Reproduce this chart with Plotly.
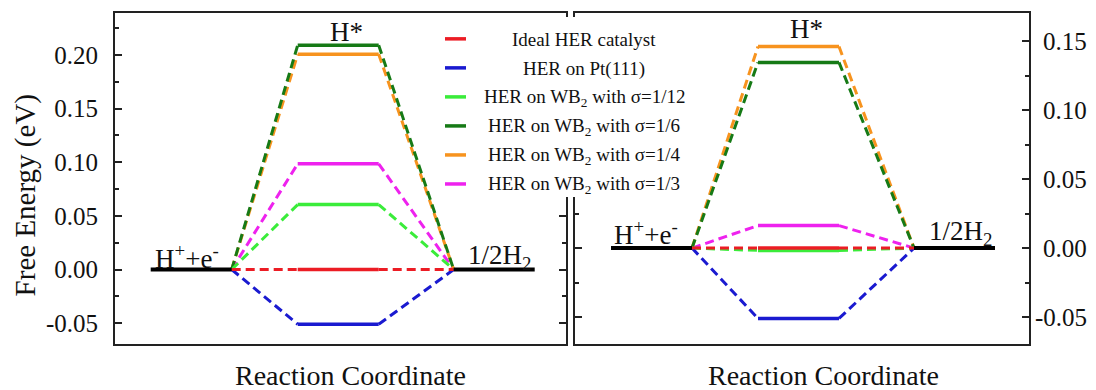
import plotly.graph_objects as go

# ---------------- data ----------------
stages = ["H<sup>+</sup>+e<sup>-</sup>", "H*", "1/2H<sub>2</sub>"]
series_names = [
    "Ideal HER catalyst",
    "HER on Pt(111)",
    "HER on WB<sub>2</sub> with σ=1/12",
    "HER on WB<sub>2</sub> with σ=1/6",
    "HER on WB<sub>2</sub> with σ=1/4",
    "HER on WB<sub>2</sub> with σ=1/3",
]
initial_energy = 0.0
final_energy = 0.0
left_hstar = [0.0, -0.051, 0.0605, 0.209, 0.2005, 0.0985]
right_hstar = [0.0, -0.051, -0.0017, 0.1345, 0.146, 0.0163]
left_ytickvals = [-0.05, 0.0, 0.05, 0.10, 0.15, 0.20]
left_yticktext = ["-0.05", "0.00", "0.05", "0.10", "0.15", "0.20"]
right_ytickvals = [-0.05, 0.0, 0.05, 0.10, 0.15]
right_yticktext = ["-0.05", "0.00", "0.05", "0.10", "0.15"]
x_title = "Reaction Coordinate"
y_title = "Free Energy (eV)"

# ---------------- style ----------------
colors = ["#ec1c24", "#1a1ad0", "#3aec3a", "#167a16", "#f7931e", "#ee22ee"]
FONT = "Liberation Serif"
LEVEL_W = 81
STAGE_START = [0, 147, 303]

W, H = 1096, 390
OFF = 8  # default page body margin of the html page
PL, PR, PT, PB = 115, 1029, 11, 344


def pxx(x):
    return (x - PL) / (PR - PL)


def pxy(y):
    return (PB - y) / (PB - PT)


fig = go.Figure()


def add_panel(values, xa, ya):
    s0, s1, s2 = STAGE_START
    L = LEVEL_W
    order = list(range(len(values)))[::-1]
    for i in order:
        v = values[i]
        fig.add_trace(go.Scatter(
            x=[s0 + L, s1, None, s1 + L, s2],
            y=[initial_energy, v, None, v, final_energy],
            mode="lines", line=dict(color=colors[i], width=3, dash="9px,5px"),
            xaxis=xa, yaxis=ya, showlegend=False, hoverinfo="skip"))
    for i in order:
        v = values[i]
        fig.add_trace(go.Scatter(
            x=[s1, s1 + L], y=[v, v], mode="lines",
            line=dict(color=colors[i], width=3.5),
            xaxis=xa, yaxis=ya, showlegend=False, name=series_names[i]))
    fig.add_trace(go.Scatter(
        x=[s0, s0 + L, None, s2, s2 + L],
        y=[initial_energy, initial_energy, None, final_energy, final_energy],
        mode="lines", line=dict(color="black", width=4),
        xaxis=xa, yaxis=ya, showlegend=False))


add_panel(left_hstar, "x", "y")
add_panel(right_hstar, "x2", "y2")

axis_common = dict(showline=True, linecolor="#222222", linewidth=1.8,
                   showgrid=False, zeroline=False)
tick_font = dict(size=25, family=FONT, color="#111111")

fig.update_layout(
    width=W - OFF, height=H - OFF,
    margin=dict(l=PL - OFF, r=W - PR, t=PT - OFF, b=H - PB, pad=0),
    paper_bgcolor="white", plot_bgcolor="white",
    showlegend=False,
    font=dict(family=FONT, color="#111111"),
    xaxis=dict(domain=[0, pxx(566)], range=[115 - 150.7, 566 - 150.7],
               showticklabels=False, ticks="", mirror=True, **axis_common),
    xaxis2=dict(domain=[pxx(575), 1], range=[575 - 611, 1029 - 611],
                showticklabels=False, ticks="", mirror=True, **axis_common),
    yaxis=dict(anchor="x", range=[-0.0694, 0.239], tickvals=left_ytickvals,
               ticktext=left_yticktext, ticks="inside", ticklen=7, tickwidth=1.5,
               tickcolor="#222222", mirror="ticks", ticklabelstandoff=10,
               tickfont=tick_font,
               minor=dict(ticks="inside", ticklen=4, dtick=0.025, tick0=0,
                          tickwidth=1.5, tickcolor="#222222"),
               **axis_common),
    yaxis2=dict(anchor="x2", side="right", range=[-0.0695, 0.1703],
                tickvals=right_ytickvals, showticklabels=False,
                ticks="inside", ticklen=7, tickwidth=1.5, tickcolor="#222222",
                mirror="ticks",
                minor=dict(ticks="inside", ticklen=4, dtick=0.025, tick0=0,
                           tickwidth=1.5, tickcolor="#222222"),
                **axis_common),
)

shapes = []
annotations = []

# right-axis tick labels, right-aligned as in the reference
for v, t in zip(right_ytickvals, right_yticktext):
    annotations.append(dict(text=t, xref="paper", yref="y2", x=pxx(1089), y=v,
                            xanchor="right", yanchor="middle", showarrow=False,
                            font=tick_font))

# legend box (white background hiding the inner borders)
shapes.append(dict(type="rect", xref="paper", yref="paper", layer="above",
                   x0=pxx(436), x1=pxx(705), y0=pxy(196), y1=pxy(15),
                   fillcolor="white", line=dict(width=0)))
row0, row_gap = 37, 29.2
for i, name in enumerate(series_names):
    yy = row0 + row_gap * i
    shapes.append(dict(type="line", xref="paper", yref="paper", layer="above",
                       x0=pxx(445), x1=pxx(466), y0=pxy(yy), y1=pxy(yy),
                       line=dict(color=colors[i], width=3.5)))
    annotations.append(dict(text=name, xref="paper", yref="paper",
                            x=pxx(584), y=pxy(yy + 1), xanchor="center",
                            yanchor="middle", showarrow=False,
                            font=dict(size=19, family=FONT, color="#111111")))

# stage labels
lab_font = dict(size=27, family=FONT, color="#111111")
stage_label_pos = [
    (187, 256, 0), (346, 30, 1), (499, 256, 2),
    (645.5, 232, 0), (806, 27, 1), (960, 232, 2),
]
for x, y, k in stage_label_pos:
    annotations.append(dict(text=stages[k], xref="paper", yref="paper",
                            x=pxx(x), y=pxy(y), xanchor="center", yanchor="middle",
                            showarrow=False, font=lab_font))

# axis titles
for x in (350, 823):
    annotations.append(dict(text=x_title, xref="paper", yref="paper",
                            x=pxx(x), y=pxy(376), xanchor="center", yanchor="middle",
                            showarrow=False, font=dict(size=28, family=FONT, color="#111111")))
annotations.append(dict(text=y_title, xref="paper", yref="paper", textangle=-90,
                        x=pxx(25.5), y=pxy(195), xanchor="center", yanchor="middle",
                        showarrow=False, font=dict(size=29, family=FONT, color="#111111")))

fig.update_layout(shapes=shapes, annotations=annotations)
fig.write_html("out.html")
